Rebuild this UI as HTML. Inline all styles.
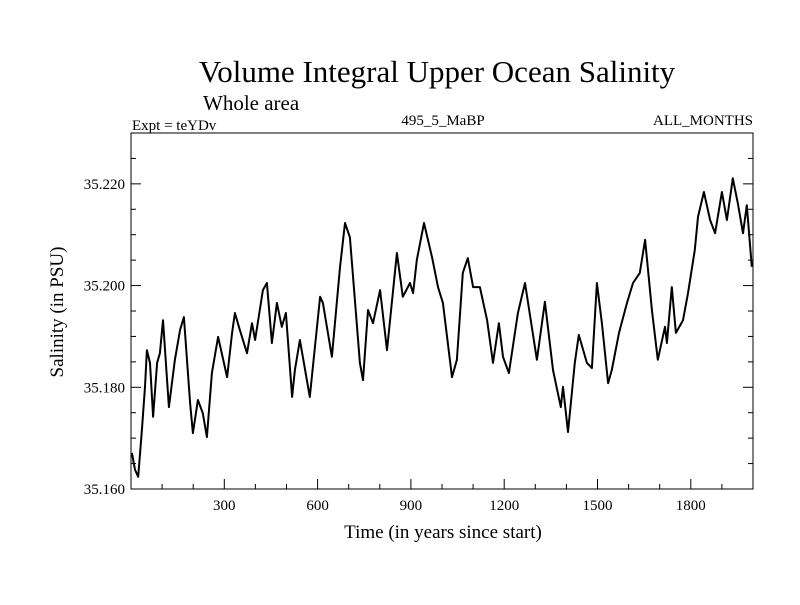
<!DOCTYPE html>
<html><head><meta charset="utf-8"><style>
body{margin:0;background:#fff}
svg text{font-family:"Liberation Serif",serif;fill:#000}
</style></head><body>
<svg id="c" width="800" height="600">
<text x="437" y="82" font-size="31" text-anchor="middle">Volume Integral Upper Ocean Salinity</text>
<text x="203" y="110" font-size="21">Whole area</text>
<text x="132" y="130" font-size="15">Expt = teYDv</text>
<text x="443" y="125" font-size="15" text-anchor="middle">495_5_MaBP</text>
<text x="753" y="125" font-size="15" text-anchor="end">ALL_MONTHS</text>
<text x="443" y="538" font-size="19" text-anchor="middle">Time (in years since start)</text>
<text transform="translate(63,312) rotate(-90)" font-size="19" text-anchor="middle">Salinity (in PSU)</text>
<rect x="131" y="133" width="622" height="356" fill="none" stroke="#000" stroke-width="1"/>
<g id="axes"></g>
<path id="line" fill="none" stroke="#000" stroke-width="2" stroke-linejoin="round"/>
</svg>
<script>
const years=[3,13,23,35,45,51,61,71,84,93,103,122,141,158,170,190,199,215,231,244,260,280,309,325,334,350,373,389,399,424,437,453,469,485,498,518,527,543,575,608,617,646,672,688,704,736,746,762,778,801,823,855,874,897,907,919,942,968,987,1003,1032,1048,1067,1083,1100,1122,1145,1164,1183,1196,1215,1244,1267,1305,1331,1357,1382,1389,1405,1427,1440,1466,1482,1498,1514,1534,1546,1569,1595,1614,1636,1653,1675,1694,1717,1723,1739,1752,1775,1791,1813,1823,1842,1862,1878,1900,1916,1935,1951,1968,1980,1996];
const salinity=[35.1671,35.1638,35.1624,35.1716,35.1801,35.1873,35.1848,35.1742,35.1848,35.1867,35.1932,35.1761,35.1854,35.1913,35.1938,35.1769,35.1710,35.1775,35.1749,35.1702,35.1828,35.1899,35.1820,35.1907,35.1946,35.1913,35.1867,35.1926,35.1893,35.1991,35.2005,35.1887,35.1966,35.1919,35.1946,35.1781,35.1834,35.1893,35.1781,35.1978,35.1966,35.1860,35.2036,35.2123,35.2095,35.1848,35.1814,35.1952,35.1926,35.1991,35.1873,35.2064,35.1978,35.2005,35.1985,35.2050,35.2123,35.2056,35.1997,35.1966,35.1820,35.1854,35.2025,35.2054,35.1997,35.1997,35.1932,35.1848,35.1926,35.1860,35.1828,35.1946,35.2005,35.1854,35.1968,35.1834,35.1761,35.1801,35.1712,35.1848,35.1903,35.1848,35.1838,35.2005,35.1926,35.1808,35.1834,35.1907,35.1966,35.2005,35.2025,35.2090,35.1952,35.1854,35.1919,35.1887,35.1997,35.1907,35.1932,35.1985,35.2070,35.2135,35.2184,35.2129,35.2103,35.2184,35.2129,35.2211,35.2162,35.2103,35.2158,35.2037];
const xTicks=[300,600,900,1200,1500,1800];
const yTicks=["35.160","35.180","35.200","35.220"];
const X0=131,X1=753,Y0=489,Y1=133,XMAX=2000,YMIN=35.160,YMAX=35.230;
const sx=v=>X0+(v/XMAX)*(X1-X0);
const sy=v=>Y0-(v-YMIN)/(YMAX-YMIN)*(Y0-Y1);
const NS="http://www.w3.org/2000/svg";
const g=document.getElementById('axes');
function mk(t,a){const e=document.createElementNS(NS,t);for(const k in a)e.setAttribute(k,a[k]);g.appendChild(e);return e;}
for(let v=100;v<XMAX;v+=100){
 const major=v%300===0;const x=sx(v);
 const t=mk('line',{x1:x,x2:x,y1:Y0,y2:Y0-(major?10:5),stroke:'#000'});
 
 
}
xTicks.forEach(v=>{const t=mk('text',{x:sx(v),y:510,'font-size':15,'text-anchor':'middle'});t.textContent=v;
 
 });
for(let i=0;i<=14;i++){
 const v=YMIN+i*0.005;const y=sy(v);const major=i%4===0;
 [[X0,X0+(major?10:5)],[X1,X1-(major?10:5)]].forEach(p=>{const t=mk('line',{x1:p[0],x2:p[1],y1:y,y2:y,stroke:'#000'});
 
 });
}
yTicks.forEach(s=>{const t=mk('text',{x:125,y:sy(parseFloat(s))+5,'font-size':15,'text-anchor':'end'});t.textContent=s;
 
 });
document.getElementById('line').setAttribute('d',years.map((y,i)=>(i?'L':'M')+sx(y).toFixed(1)+','+sy(salinity[i]).toFixed(1)).join(''));
</script>
</body></html>
